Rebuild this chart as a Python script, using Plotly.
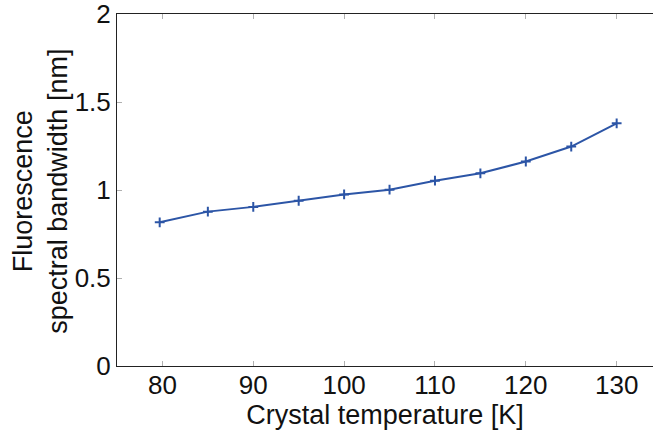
import plotly.graph_objects as go

# Crystal temperature [K] and measured fluorescence spectral bandwidth [nm]
temperature = [79.7, 85, 90, 95, 100, 105, 110, 115, 120, 125, 130]
bandwidth = [0.817, 0.878, 0.905, 0.940, 0.976, 1.003, 1.054, 1.096, 1.163, 1.248, 1.380]

x_ticks = [80, 90, 100, 110, 120, 130]
y_ticks = [0, 0.5, 1, 1.5, 2]
y_tick_text = ["0", "0.5", "1", "1.5", "2"]

FONT = "Liberation Sans, Arial, Helvetica, sans-serif"

fig = go.Figure()
fig.add_trace(go.Scatter(
    x=temperature, y=bandwidth,
    mode="lines+markers",
    line=dict(color="#2c55a6", width=2),
    marker=dict(symbol="cross-thin", size=7, line=dict(color="#2c55a6", width=2)),
    showlegend=False,
))

axis_common = dict(
    showline=True, linecolor="#222222", linewidth=1,
    showgrid=False, zeroline=False,
    ticks="inside", ticklen=5, tickcolor="#b0b0b0", tickwidth=1,
    tickfont=dict(family=FONT, size=26, color="#111111"),
    ticklabeloverflow="allow",
)

fig.update_xaxes(
    range=[75, 134], tickvals=x_ticks, mirror="ticks",
    ticklabelstandoff=-4,
    title=dict(text="Crystal temperature [K]", standoff=9,
               font=dict(family=FONT, size=27, color="#111111")),
    **axis_common,
)
fig.update_yaxes(
    range=[0, 2.002], tickvals=y_ticks, ticktext=y_tick_text,
    **axis_common,
)

# Two-line y-axis title, centred on the plot height
fig.add_annotation(text="Fluorescence<br>spectral bandwidth [nm]",
                   xref="paper", yref="paper", x=0, y=0.495,
                   xanchor="center", yanchor="middle", xshift=-76,
                   textangle=-90, showarrow=False,
                   font=dict(family=FONT, size=27, color="#111111"))

fig.update_layout(
    width=653, height=430,
    margin=dict(l=117, r=0, t=14, b=64),
    plot_bgcolor="white", paper_bgcolor="white",
)

fig.write_html("out.html")
